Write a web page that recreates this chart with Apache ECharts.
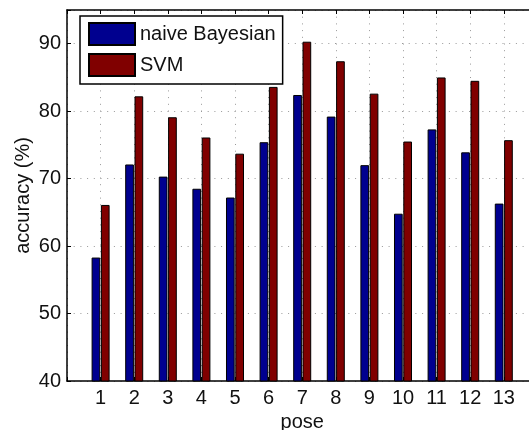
<!DOCTYPE html>
<html>
<head>
<meta charset="utf-8">
<script src="https://cdn.jsdelivr.net/npm/echarts@6/dist/echarts.min.js"></script>
<style>
  html, body { margin: 0; padding: 0; background: #fff; overflow: hidden; }
  #chart { width: 529px; height: 430px; }
</style>
</head>
<body>
<div id="chart"></div>
<script>
// pose numbers and accuracy (%)
var poses = [1, 2, 3, 4, 5, 6, 7, 8, 9, 10, 11, 12, 13];
var naiveBayes = [58.3, 72.1, 70.3, 68.5, 67.2, 75.4, 82.4, 79.2, 72.0, 64.8, 77.3, 73.9, 66.3];
var svm = [66.1, 82.2, 79.1, 76.1, 73.7, 83.6, 90.3, 87.4, 82.6, 75.5, 85.0, 84.5, 75.7];
var yTicks = [40, 50, 60, 70, 80, 90];

var font = "'Liberation Sans', Arial, Helvetica, sans-serif";
var dotted = { color: '#999', width: 1, type: [1, 5.7] };

function pairs(vals) {
  return poses.map(function (p, i) { return [p, vals[i]]; });
}

var chart = echarts.init(document.getElementById('chart'));
chart.setOption({
  animation: false,
  textStyle: { fontFamily: font },
  // the axes box runs past the right edge of the picture
  grid: { left: 67, top: 10, bottom: 49, width: 470.4, outerBoundsMode: 'none', containLabel: false },
  legend: {
    orient: 'vertical',
    left: 80,
    top: 16,
    padding: [6, 7, 7, 8],
    itemGap: 7,
    itemWidth: 46,
    itemHeight: 22,
    icon: 'rect',
    borderColor: '#000',
    borderWidth: 1.5,
    backgroundColor: '#fff',
    textStyle: { fontSize: 20, color: '#111', fontFamily: font },
    data: ['naive Bayesian', 'SVM']
  },
  xAxis: [{
    type: 'value',
    min: 0,
    max: 14,
    interval: 1,
    name: 'pose',
    nameLocation: 'middle',
    nameGap: 31,
    nameMoveOverlap: false,
    nameTextStyle: { fontSize: 20, color: '#111' },
    axisLine: { lineStyle: { color: '#000', width: 1.5 } },
    axisTick: { inside: true, length: 4, lineStyle: { color: '#000' } },
    axisLabel: {
      fontSize: 20, color: '#111', margin: 7,
      formatter: function (v) { return poses.indexOf(v) >= 0 ? String(v) : ''; }
    },
    splitLine: { show: true, lineStyle: dotted }
  }, {
    type: 'value',
    position: 'top',
    min: 0,
    max: 14,
    interval: 1,
    axisLine: { show: true, lineStyle: { color: '#000', width: 1.5 } },
    axisTick: { inside: true, length: 4, lineStyle: { color: '#000' } },
    axisLabel: { show: false },
    splitLine: { show: false }
  }],
  yAxis: {
    type: 'value',
    min: 40,
    max: 95,
    interval: 10,
    name: 'accuracy (%)',
    nameLocation: 'middle',
    nameGap: 34,
    nameMoveOverlap: false,
    nameTextStyle: { fontSize: 20, color: '#111' },
    axisLine: { show: true, lineStyle: { color: '#000', width: 1.5 } },
    axisTick: { show: true, inside: true, length: 4, lineStyle: { color: '#000' } },
    axisLabel: {
      fontSize: 20, color: '#111', margin: 6,
      formatter: function (v) { return yTicks.indexOf(v) >= 0 ? String(v) : ''; }
    },
    splitLine: { show: true, lineStyle: dotted }
  },
  series: [{
    name: 'naive Bayesian',
    type: 'bar',
    barWidth: 8.7,
    barGap: '7%',
    itemStyle: { color: '#00008f', borderColor: '#000', borderWidth: 1 },
    data: pairs(naiveBayes)
  }, {
    name: 'SVM',
    type: 'bar',
    barWidth: 8.7,
    barGap: '7%',
    itemStyle: { color: '#800000', borderColor: '#000', borderWidth: 1 },
    data: pairs(svm)
  }]
});
</script>
</body>
</html>
